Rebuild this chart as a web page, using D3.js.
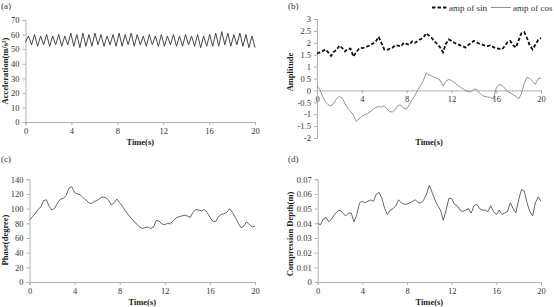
<!DOCTYPE html>
<html><head><meta charset="utf-8">
<script src="https://cdn.jsdelivr.net/npm/d3@7"></script>
<style>
body{margin:0;background:#fff;}
svg{display:block;font-family:"Liberation Serif","Times New Roman",serif;}
.axis{font-family:"Liberation Serif","Times New Roman",serif;}
.axis .tick text{font-size:8.5px;fill:#333;}
.axis path,.axis line{stroke:#b0b0b0;stroke-width:1;}
.title{font-size:8.5px;font-weight:bold;fill:#222;}
.plab{font-size:9px;fill:#333;}
</style></head><body>
<svg id="c" width="554" height="307"></svg>
<script>
// ---------------- data ----------------
const xTicks = [0, 4, 8, 12, 16, 20];
const aYTicks = [0, 10, 20, 30, 40, 50, 60, 70];
const bYTicks = [-2, -1.5, -1, -0.5, 0, 0.5, 1, 1.5, 2, 2.5, 3];
const cYTicks = [0, 20, 40, 60, 80, 100, 120, 140];
const dYTicks = [0, 0.01, 0.02, 0.03, 0.04, 0.05, 0.06, 0.07];

// (a) acceleration, alternating peaks / troughs over 20 s
const aAccel = [55,59,53,60,52,59,53,60,52,59,53,60,52,59,53,61,52,60,51,61,52,60,52,61,53,60,52,59,53,60,52,61,52,60,53,61,52,60,53,59,52,60,53,59,52,60,52,59,53,60,52,59,52,60,53,59,52,60,51,59,52,60,52,61,52,62,53,61,52,60,53,61,52,60,51,59,51];

// (b),(c),(d) sampled every 0.25 s from 0 to 20 s
const bSin = [1.55,1.6,1.65,1.72,1.6,1.45,1.62,1.7,1.88,1.78,1.64,1.75,1.75,1.42,1.6,1.75,1.78,1.8,1.85,1.9,1.97,2.05,2.25,2.0,1.72,1.7,1.75,1.8,1.9,1.88,1.85,2.0,1.95,1.92,2.06,2.0,2.08,2.15,2.22,2.4,2.3,2.2,2.05,1.95,1.8,1.6,1.95,2.14,2.08,2.0,1.95,1.9,1.86,1.8,1.9,2.0,2.08,2.02,1.96,1.92,1.88,1.86,1.9,1.82,1.77,1.75,1.72,1.85,2.02,2.08,1.9,1.8,2.1,2.4,2.45,2.2,1.88,1.72,1.92,2.12,2.2];
const bCos = [0.17,0.05,-0.25,-0.48,-0.6,-0.66,-0.53,-0.35,-0.25,-0.32,-0.55,-0.76,-0.88,-1.05,-1.3,-1.2,-1.08,-1.02,-0.98,-0.9,-0.8,-0.72,-0.68,-0.7,-0.65,-0.78,-0.9,-0.9,-0.8,-0.62,-0.62,-0.75,-0.78,-0.6,-0.4,-0.2,0.02,0.2,0.42,0.72,0.65,0.6,0.55,0.5,0.42,0.18,0.38,0.46,0.42,0.33,0.24,0.15,0.08,0.0,-0.05,-0.06,0.05,0.05,-0.1,-0.22,-0.26,-0.28,-0.3,-0.36,0.1,0.24,0.22,0.1,-0.05,-0.1,-0.18,-0.25,-0.35,-0.15,0.3,0.55,0.5,0.38,0.26,0.5,0.52];
const cPhase = [84,89,93,99,102,111,112,103,98,101,108,113,114,118,128,130,122,120,119,115,112,108,107,110,111,114,116,115,112,105,108,113,108,103,97,92,87,83,79,75,73,74,75,73,75,84,83,79,78,80,79,84,87,89,90,91,90,88,95,99,98,97,99,95,88,83,82,89,92,93,95,100,95,88,81,74,76,82,78,75,76];
const dDepth = [0.040,0.039,0.043,0.044,0.041,0.043,0.046,0.048,0.049,0.047,0.045,0.047,0.047,0.041,0.046,0.054,0.055,0.054,0.055,0.056,0.055,0.060,0.061,0.057,0.050,0.046,0.049,0.050,0.052,0.056,0.054,0.053,0.053,0.054,0.055,0.056,0.054,0.054,0.056,0.060,0.066,0.061,0.056,0.052,0.049,0.042,0.049,0.057,0.057,0.053,0.052,0.049,0.048,0.049,0.050,0.047,0.052,0.053,0.050,0.049,0.049,0.048,0.052,0.048,0.046,0.049,0.046,0.047,0.048,0.054,0.050,0.047,0.056,0.063,0.062,0.054,0.048,0.045,0.054,0.058,0.055];

// ---------------- drawing ----------------
const svg = d3.select("#c");
const fmt = v => String(v);

function panel(o){
  const x = d3.scaleLinear().domain([0,20]).range([o.x0,o.x1]);
  const y = d3.scaleLinear().domain(o.yDomain).range([o.yB,o.yT]);
  const g = svg.append("g");
  const xAxisY = o.xAxisAt !== undefined ? y(o.xAxisAt) : o.yB;
  g.append("g").attr("class","axis").attr("transform",`translate(0,${xAxisY})`)
    .call(d3.axisBottom(x).tickValues(xTicks).tickFormat(fmt).tickSizeOuter(0).tickSize(3).tickPadding(3))
    .attr("font-family",null).attr("font-size",null);
  g.append("g").attr("class","axis").attr("transform",`translate(${o.x0},0)`)
    .call(d3.axisLeft(y).tickValues(o.yTicks).tickFormat(fmt).tickSizeOuter(0).tickSize(3).tickPadding(3))
    .attr("font-family",null).attr("font-size",null);
  o.series.forEach(s=>{
    const n = s.values.length;
    const line = d3.line().x((d,i)=>x(i*20/(n-1))).y(d=>y(d));
    const p = g.append("path").datum(s.values).attr("d",line)
      .attr("fill","none").attr("stroke",s.color).attr("stroke-width",s.width);
    if(s.dash) p.attr("stroke-dasharray",s.dash);
  });
  g.append("text").attr("class","plab").attr("x",o.labX).attr("y",o.labY).text(o.label);
  g.append("text").attr("class","title").attr("text-anchor","middle")
    .attr("x",(o.x0+o.x1)/2).attr("y",o.xTitleY).text("Time(s)");
  g.append("text").attr("class","title").attr("text-anchor","middle")
    .attr("transform",`translate(${o.yTitleX},${o.yTitleY}) rotate(-90)`).text(o.yTitle);
  return {x,y};
}

panel({x0:25.5,x1:255,yT:20,yB:122,yDomain:[0,70],yTicks:aYTicks,
  series:[{values:aAccel,color:"#333",width:0.9}],
  label:"(a)",labX:1,labY:9,xTitleY:145,yTitle:"Acceleration(m/s\u00B2)",yTitleX:8,yTitleY:71});

panel({x0:317,x1:541,yT:19,yB:138,yDomain:[-2,3],yTicks:bYTicks,xAxisAt:0,
  series:[{values:bCos,color:"#777",width:0.8},{values:bSin,color:"#111",width:1.8,dash:"3.5,2"}],
  label:"(b)",labX:288,labY:9,xTitleY:145,yTitle:"Amplitude",yTitleX:293,yTitleY:72});

panel({x0:29.5,x1:255,yT:179.3,yB:282,yDomain:[0,140],yTicks:cYTicks,
  series:[{values:cPhase,color:"#555",width:0.9}],
  label:"(c)",labX:1,labY:162,xTitleY:305,yTitle:"Phase(degree)",yTitleX:8,yTitleY:240});

panel({x0:317.7,x1:541,yT:179.3,yB:282,yDomain:[0,0.07],yTicks:dYTicks,
  series:[{values:dDepth,color:"#555",width:0.9}],
  label:"(d)",labX:288,labY:162,xTitleY:305,yTitle:"Compression Depth(m)",yTitleX:293,yTitleY:234});

// legend for (b)
const leg = svg.append("g");
leg.append("line").attr("x1",432).attr("x2",447).attr("y1",7.5).attr("y2",7.5)
  .attr("stroke","#111").attr("stroke-width",1.8).attr("stroke-dasharray","3.5,2");
leg.append("text").attr("class","plab").attr("x",449).attr("y",10.5).text("amp of sin");
leg.append("line").attr("x1",491).attr("x2",511).attr("y1",7.5).attr("y2",7.5)
  .attr("stroke","#777").attr("stroke-width",0.8);
leg.append("text").attr("class","plab").attr("x",513).attr("y",10.5).text("amp of cos");
</script>
</body></html>
